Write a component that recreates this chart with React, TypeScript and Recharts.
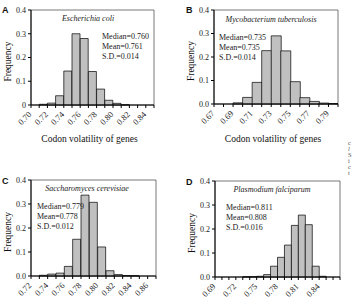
import React from 'react';
import { BarChart, Bar, XAxis, YAxis, ReferenceArea } from 'recharts';

const SERIF = '"Liberation Serif", "Times New Roman", serif';
const SANS = '"Liberation Sans", Arial, sans-serif';

const Y_TICKS = [0, 0.1, 0.2, 0.3, 0.4];
const BIN_WIDTH = 0.01;

// A - Escherichia coli
const A_BINS = ['0.70', '0.71', '0.72', '0.73', '0.74', '0.75', '0.76', '0.77', '0.78', '0.79', '0.80', '0.81', '0.82', '0.83', '0.84'];
const A_FREQ = [0, 0.003, 0.008, 0.039, 0.143, 0.300, 0.280, 0.141, 0.067, 0.020, 0.007, 0.001, 0, 0, 0];
const A_END = 0.85;
const A_LABELS = ['0.70', '0.72', '0.74', '0.76', '0.78', '0.80', '0.82', '0.84'];
const A_STATS = ['Median=0.760', 'Mean=0.761', 'S.D.=0.014'];

// B - Mycobacterium tuberculosis
const B_BINS = ['0.67', '0.68', '0.69', '0.70', '0.71', '0.72', '0.73', '0.74', '0.75', '0.76', '0.77', '0.78', '0.79'];
const B_FREQ = [0, 0, 0.005, 0.028, 0.092, 0.227, 0.290, 0.226, 0.095, 0.027, 0.011, 0.004, 0.002];
const B_END = 0.80;
const B_LABELS = ['0.67', '0.69', '0.71', '0.73', '0.75', '0.77', '0.79'];
const B_STATS = ['Median=0.735', 'Mean=0.735', 'S.D.=0.014'];

// C - Saccharomyces cerevisiae
const C_BINS = ['0.72', '0.73', '0.74', '0.75', '0.76', '0.77', '0.78', '0.79', '0.80', '0.81', '0.82', '0.83', '0.84', '0.85', '0.86'];
const C_FREQ = [0, 0.003, 0.008, 0.012, 0.040, 0.153, 0.337, 0.307, 0.121, 0.022, 0.006, 0.002, 0.001, 0, 0];
const C_END = 0.87;
const C_LABELS = ['0.72', '0.74', '0.76', '0.78', '0.80', '0.82', '0.84', '0.86'];
const C_STATS = ['Median=0.779', 'Mean=0.778', 'S.D.=0.012'];

// D - Plasmodium falciparum
const D_BINS = ['0.69', '0.70', '0.71', '0.72', '0.73', '0.74', '0.75', '0.76', '0.77', '0.78', '0.79', '0.80', '0.81', '0.82', '0.83', '0.84', '0.85', '0.86'];
const D_FREQ = [0, 0, 0, 0, 0.001, 0.001, 0.003, 0.010, 0.045, 0.082, 0.133, 0.215, 0.258, 0.218, 0.045, 0.003, 0, 0];
const D_END = 0.87;
const D_LABELS = ['0.69', '0.72', '0.75', '0.78', '0.81', '0.84'];
const D_STATS = ['Median=0.811', 'Mean=0.808', 'S.D.=0.016'];

function BinTick({ x, y, payload, labels }: any) {
  const s = Number(payload.value).toFixed(2);
  if (!labels.includes(s)) return null;
  return (
    <text x={x + 1} y={y + 4} transform={`rotate(-45 ${x + 1} ${y + 4})`} textAnchor="end"
      fontFamily={SERIF} fontSize={8.5} fill="#1a1a1a">{s}</text>
  );
}

type HistProps = {
  left: number; top: number; width: number; height: number;
  margin: { top: number; right: number; left: number; bottom: number };
  xHeight: number;
  bins: string[]; freq: number[]; end: number; labels: string[]; zero: string;
  xTitle?: string;
};

function Hist(p: HistProps) {
  // each bar sits at the middle of its 0.01-wide bin
  const data = p.bins.map((b, i) => ({ mid: Number(b) + BIN_WIDTH / 2, f: p.freq[i] }));
  const edges = [...p.bins.map(Number), p.end];
  const lo = edges[0];
  return (
    <div style={{ position: 'absolute', left: p.left, top: p.top }}>
      <BarChart width={p.width} height={p.height} data={data} margin={p.margin} barCategoryGap={0} barGap={0}>
        <XAxis dataKey="mid" type="number" domain={[lo, p.end]} allowDataOverflow ticks={edges} interval={0}
          height={p.xHeight} tickSize={3} tickMargin={3} stroke="#000" axisLine={{ stroke: '#000' }} tickLine={{ stroke: '#000' }}
          tick={(t: any) => <BinTick {...t} labels={p.labels} />}
          label={p.xTitle ? { value: p.xTitle, position: 'insideBottom', offset: 8, dx: -3, style: { fontFamily: SERIF, fontSize: 9.5, fill: '#111' } } : undefined} />
        <YAxis type="number" domain={[0, 0.4]} ticks={Y_TICKS} interval={0} width={31} tickSize={3} tickMargin={2}
          stroke="#000" axisLine={{ stroke: '#000' }} tickLine={{ stroke: '#000' }}
          tick={{ fontFamily: SERIF, fontSize: 8, fill: '#1a1a1a' }}
          tickFormatter={(v: number) => (v === 0 ? p.zero : v.toFixed(1))}
          label={{ value: 'Frequency', angle: -90, position: 'insideLeft', offset: 8, dy: 4, style: { textAnchor: 'middle', fontFamily: SERIF, fontSize: 9.5, fill: '#111' } }} />
        <ReferenceArea x1={lo} x2={p.end} y1={0} y2={0.4} fill="none" stroke="#555" strokeWidth={0.8} ifOverflow="visible" />
        <Bar dataKey="f" fill="#c0c0c0" stroke="#000" strokeWidth={0.7} isAnimationActive={false} />
      </BarChart>
    </div>
  );
}

const textBase: React.CSSProperties = { position: 'absolute', fontFamily: SERIF, fontSize: 8, color: '#1a1a1a', whiteSpace: 'nowrap', lineHeight: '10px' };

function Letter({ x, y, children }: any) {
  return <div style={{ ...textBase, left: x, top: y, fontFamily: SANS, fontWeight: 'bold', fontSize: 9, color: '#111' }}>{children}</div>;
}

function Title({ cx, cy, children }: any) {
  return <div style={{ ...textBase, left: cx, top: cy - 5, transform: 'translateX(-50%)', fontStyle: 'italic' }}>{children}</div>;
}

function Stats({ x, y, lines }: any) {
  return (
    <div style={{ ...textBase, left: x, top: y }}>
      {lines.map((l: string) => <div key={l}>{l}</div>)}
    </div>
  );
}

export default function App() {
  return (
    <div style={{ position: 'absolute', left: 0, top: 0, width: 355, height: 303, overflow: 'hidden', background: '#fff' }}>
      <Hist left={0} top={0} width={160} height={150} margin={{ top: 10, right: 6, left: 0, bottom: 0 }} xHeight={45}
        bins={A_BINS} freq={A_FREQ} end={A_END} labels={A_LABELS} zero="0" xTitle="Codon volatility of genes" />
      <Hist left={183} top={0} width={160} height={150} margin={{ top: 10, right: 5, left: 0, bottom: 0 }} xHeight={46}
        bins={B_BINS} freq={B_FREQ} end={B_END} labels={B_LABELS} zero="0.0" xTitle="Codon volatility of genes" />
      <Hist left={0} top={170} width={162} height={150} margin={{ top: 10, right: 6, left: 0, bottom: 0 }} xHeight={44}
        bins={C_BINS} freq={C_FREQ} end={C_END} labels={C_LABELS} zero="0.0" />
      <Hist left={184} top={171} width={160} height={150} margin={{ top: 10, right: 4, left: 0, bottom: 0 }} xHeight={44}
        bins={D_BINS} freq={D_FREQ} end={D_END} labels={D_LABELS} zero="0.0" />

      <Letter x={2} y={5}>A</Letter>
      <Letter x={186} y={5}>B</Letter>
      <Letter x={2} y={176}>C</Letter>
      <Letter x={186} y={177}>D</Letter>

      <Title cx={88} cy={19}>Escherichia coli</Title>
      <Title cx={271} cy={20}>Mycobacterium tuberculosis</Title>
      <Title cx={87} cy={189}>Saccharomyces cerevisiae</Title>
      <Title cx={272} cy={190}>Plasmodium falciparum</Title>

      <Stats x={102} y={32} lines={A_STATS} />
      <Stats x={219} y={33} lines={B_STATS} />
      <Stats x={37} y={202} lines={C_STATS} />
      <Stats x={226} y={203} lines={D_STATS} />

      <div style={{ ...textBase, left: 348, top: 140, fontSize: 6.5, lineHeight: '6px', color: '#555' }}>
        <div>c</div><div style={{ fontStyle: 'italic' }}>l</div><div>S</div><div>i</div><div>c</div><div>t</div>
      </div>
    </div>
  );
}
